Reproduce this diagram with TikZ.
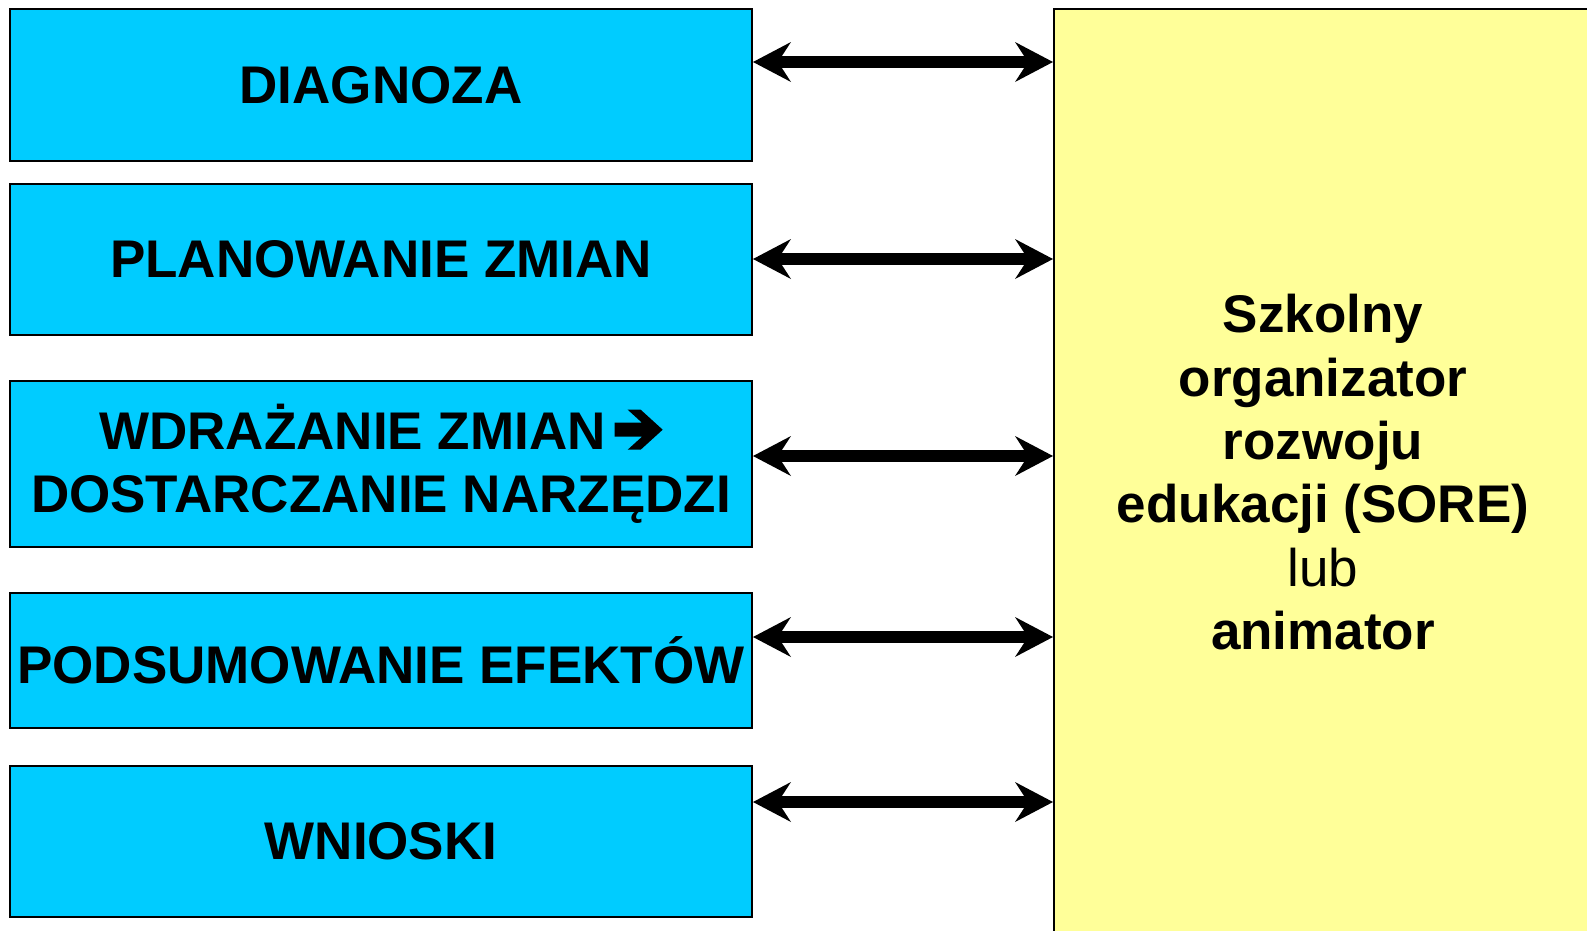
\documentclass[tikz,border=0pt]{standalone}
\usepackage{fontspec}
\setmainfont{Liberation Sans}
\usetikzlibrary{arrows.meta}
\definecolor{boxcyan}{HTML}{00CCFF}
\definecolor{soreyellow}{HTML}{FFFF99}
\newcommand{\heavyarrow}{\hspace{9pt}\tikz[baseline=0pt,x=1pt,y=1pt]\fill[black] (0,13) -- (27.3,13) -- (13,0) -- (26,0) -- (48,20) -- (26,40) -- (13,40) -- (27.3,27) -- (0,27) -- cycle;}
\begin{document}
\begin{tikzpicture}[x=1pt,y=-1pt,
  phase/.style={draw=black, line width=2pt, fill=boxcyan, minimum width=742pt, inner sep=0pt, align=center, font=\fontsize{53}{63}\selectfont\bfseries},
  sorebox/.style={draw=black, line width=2pt, fill=soreyellow, minimum width=542pt, minimum height=936pt, inner sep=0pt},
  soretext/.style={align=center, inner sep=0pt, font=\fontsize{53}{63.4}\selectfont\bfseries},
  link/.style={line width=12pt, {Stealth[length=38pt,width=40pt,inset=13pt,line width=0pt]}-{Stealth[length=38pt,width=40pt,inset=13pt,line width=0pt]}}
]
\useasboundingbox (0,0) rectangle (1587,930);
\fill[white] (0,0) rectangle (1587,930);
\node[phase, minimum height=152pt] (b1) at (381,85) {DIAGNOZA};
\node[phase, minimum height=151pt] (b2) at (381,259.5) {PLANOWANIE ZMIAN};
\node[phase, minimum height=166pt] (b3) at (381,464) {WDRAŻANIE ZMIAN\heavyarrow\\DOSTARCZANIE NARZĘDZI};
\node[phase, minimum height=135pt] (b4) at (381,660.5) {PODSUMOWANIE EFEKTÓW};
\node[phase, minimum height=151pt] (b5) at (381,841.5) {WNIOSKI};
\node[sorebox] (sore) at (1325,477) {};
\node[soretext, anchor=north] (soretxt) at (1323,294) {Szkolny\\organizator\\rozwoju\\edukacji (SORE)\\{\mdseries lub}\\animator};
\coordinate (a1) at (0,62);
\coordinate (a2) at (0,259);
\coordinate (a3) at (0,456);
\coordinate (a4) at (0,637);
\coordinate (a5) at (0,802);
\draw[link] (b1.east |- a1) -- (sore.west |- a1);
\draw[link] (b2.east |- a2) -- (sore.west |- a2);
\draw[link] (b3.east |- a3) -- (sore.west |- a3);
\draw[link] (b4.east |- a4) -- (sore.west |- a4);
\draw[link] (b5.east |- a5) -- (sore.west |- a5);
\end{tikzpicture}
\end{document}
